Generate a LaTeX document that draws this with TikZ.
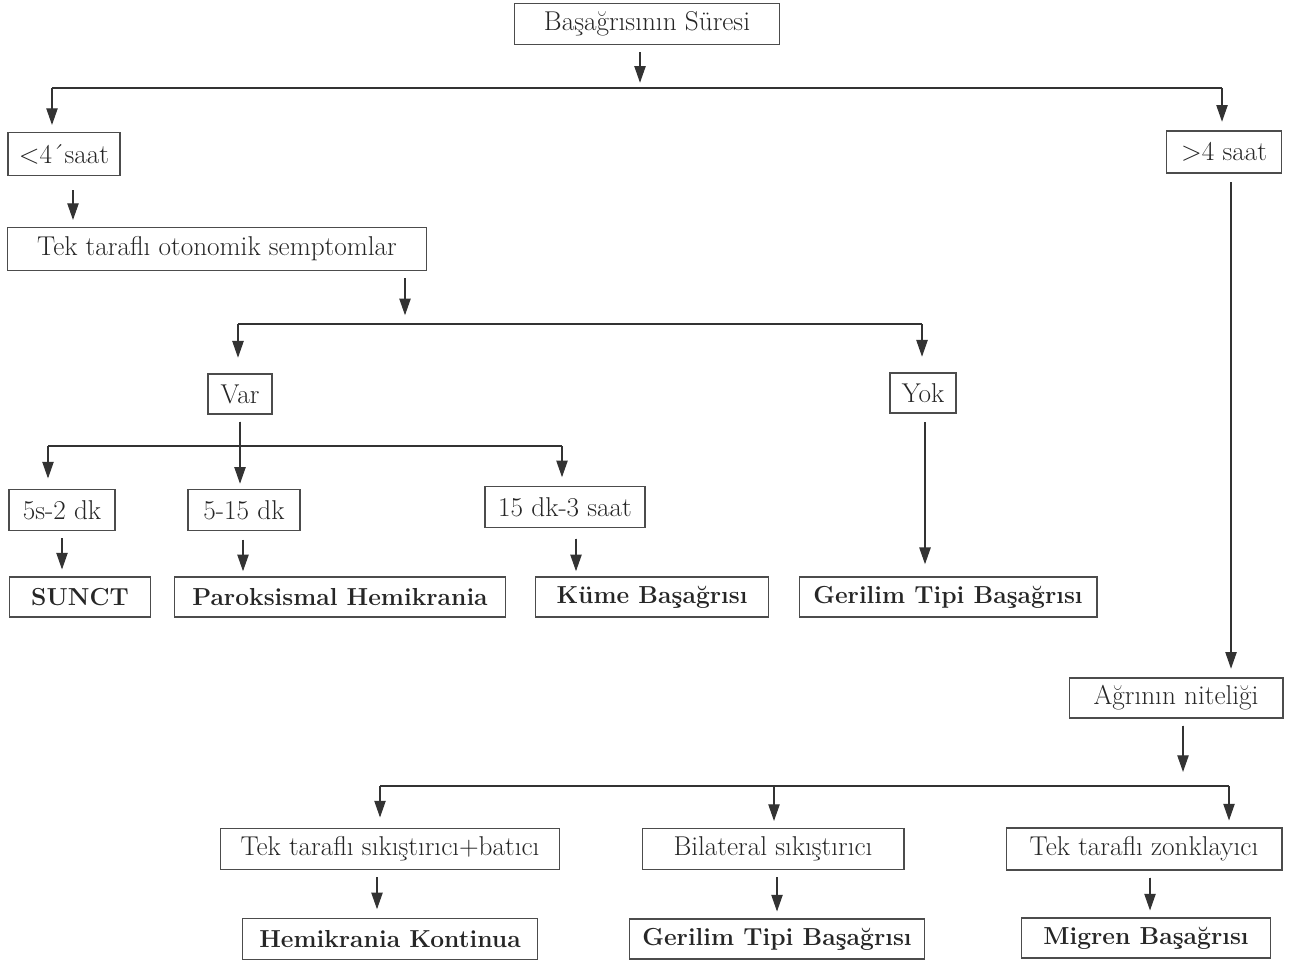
\documentclass[tikz,border=0pt]{standalone}
\usetikzlibrary{arrows.meta}

\tikzset{
  box/.style={draw=black!70, line width=0.6pt, minimum height=0.82cm, inner sep=2pt,
    text=black!85, font=\fontsize{15.5}{17}\selectfont},
  endbox/.style={box, font=\fontsize{14}{16}\selectfont\bfseries},
  arr/.style={-{Triangle[length=9.5pt,width=6.5pt]}, line width=0.6pt, draw=black!80, fill=black!80},
  bus/.style={line width=0.6pt, draw=black!80},
}

\begin{document}
\begin{tikzpicture}[x=0.02cm,y=-0.02cm]
\useasboundingbox (0,0) rectangle (1297,960);

% boxes
\node[box, minimum width=5.3cm] (sure) at (647,24) {Başağrısının Süresi};
\node[box, minimum width=2.24cm, minimum height=0.86cm] (kisa) at (64,154) {<4´saat};
\node[box, minimum width=2.3cm, minimum height=0.84cm] (uzun) at (1224,152) {>4 saat};
\node[box, minimum width=8.38cm, minimum height=0.86cm] (otonom) at (217,249) {Tek taraflı otonomik semptomlar};
\node[box, minimum width=1.28cm, minimum height=0.8cm] (var) at (240,394) {Var};
\node[box, minimum width=1.32cm, minimum height=0.8cm] (yok) at (923,393) {Yok};
\node[box, minimum width=2.12cm] (sa) at (62,510) {5s-2 dk};
\node[box, minimum width=2.24cm] (sb) at (244,510) {5-15 dk};
\node[box, minimum width=3.2cm] (sc) at (565,507) {15 dk-3 saat};
\node[endbox, minimum width=2.82cm, minimum height=0.8cm] (sunct) at (80,597) {SUNCT};
\node[endbox, minimum width=6.62cm, minimum height=0.8cm] (parok) at (340,597) {Paroksismal Hemikrania};
\node[endbox, minimum width=4.66cm, minimum height=0.8cm] (kume) at (652,597) {Küme Başağrısı};
\node[endbox, minimum width=5.96cm, minimum height=0.8cm] (gerA) at (948,597) {Gerilim Tipi Başağrısı};
\node[box, minimum width=4.28cm, minimum height=0.8cm] (nitelik) at (1176,698) {Ağrının niteliği};
\node[box, minimum width=6.78cm] (tsb) at (390,849) {Tek taraflı sıkıştırıcı+batıcı};
\node[box, minimum width=5.24cm] (bil) at (773,849) {Bilateral sıkıştırıcı};
\node[box, minimum width=5.52cm, minimum height=0.84cm] (zonk) at (1144,849) {Tek taraflı zonklayıcı};
\node[endbox, minimum width=5.9cm] (hk) at (390,939) {Hemikrania Kontinua};
\node[endbox, minimum width=5.9cm, minimum height=0.8cm] (gerB) at (777,939) {Gerilim Tipi Başağrısı};
\node[endbox, minimum width=4.98cm, minimum height=0.8cm] (migren) at (1146,938) {Migren Başağrısı};

% junctions
\coordinate (j1) at (640,88);
\coordinate (j1l) at (52,88);
\coordinate (j1r) at (1222,88);
\coordinate (j2) at (405,324);
\coordinate (j2l) at (238,324);
\coordinate (j2r) at (922,324);
\coordinate (j3l) at (48,446);
\coordinate (j3r) at (562,446);
\coordinate (j4) at (1183,786);
\coordinate (j4l) at (380,786);
\coordinate (j4m) at (774,786);
\coordinate (j4r) at (1229,786);

% duration split
\draw[arr, shorten <=4pt, shorten >=3pt] (sure.south -| j1) -- (j1);
\draw[bus] (j1l) -- (j1r);
\draw[arr, shorten >=4pt] (j1l) -- (j1l |- kisa.north);
\draw[arr, shorten >=5pt] (j1r) -- (j1r |- uzun.north);

% short branch
\draw[arr, shorten <=8pt, shorten >=4pt] (kisa.south -| 73,0) -- (otonom.north -| 73,0);
\draw[arr, shorten <=4pt, shorten >=5pt] (otonom.south -| j2) -- (j2);
\draw[bus] (j2l) -- (j2r);
\draw[arr, shorten >=9pt] (j2l) -- (j2l |- var.north);
\draw[arr, shorten >=9pt] (j2r) -- (j2r |- yok.north);

\draw[arr, shorten <=4pt, shorten >=3pt] (var.south) -- (var.south |- sb.north);
\draw[bus] (j3l) -- (j3r);
\draw[arr, shorten >=6pt] (j3l) -- (j3l |- sa.north);
\draw[arr, shorten >=5pt] (j3r) -- (j3r |- sc.north);

\draw[arr, shorten <=4pt, shorten >=4pt] (sa.south) -- (sa.south |- sunct.north);
\draw[arr, shorten <=5pt, shorten >=3pt] (sb.south -| 243,0) -- (parok.north -| 243,0);
\draw[arr, shorten <=6pt, shorten >=3pt] (sc.south -| 576,0) -- (kume.north -| 576,0);
\draw[arr, shorten <=5pt, shorten >=7pt] (yok.south -| 925,0) -- (gerA.north -| 925,0);

% long branch
\draw[arr, shorten <=5pt, shorten >=5pt] (uzun.south -| 1231,0) -- (nitelik.north -| 1231,0);
\draw[arr, shorten <=4pt, shorten >=8pt] (nitelik.south -| j4) -- (j4);
\draw[bus] (j4l) -- (j4r);
\draw[arr, shorten >=6pt] (j4l) -- (j4l |- tsb.north);
\draw[arr, shorten >=4pt] (j4m) -- (j4m |- bil.north);
\draw[arr, shorten >=4pt] (j4r) -- (j4r |- zonk.north);

\draw[arr, shorten <=4pt, shorten >=5pt] (tsb.south -| 377,0) -- (hk.north -| 377,0);
\draw[arr, shorten <=4pt, shorten >=4pt] (bil.south -| 777,0) -- (gerB.north -| 777,0);
\draw[arr, shorten <=4pt, shorten >=4pt] (zonk.south -| 1150,0) -- (migren.north -| 1150,0);
\end{tikzpicture}
\end{document}
